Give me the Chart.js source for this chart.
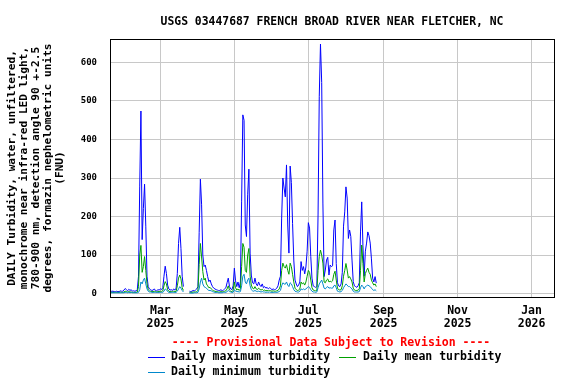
<!DOCTYPE html>
<html><head><meta charset="utf-8">
<script src="https://cdn.jsdelivr.net/npm/chart.js@4/dist/chart.umd.min.js"></script>
<style>html,body{margin:0;padding:0;background:#fff;}#wrap{width:576px;height:384px;position:relative;}</style>
</head><body><div id="wrap"><canvas id="c" width="576" height="384"></canvas></div>
<script>
const titleText = "USGS 03447687 FRENCH BROAD RIVER NEAR FLETCHER, NC";
const yAxisTitle = [
  "DAILY Turbidity, water, unfiltered,",
  "monochrome near infra-red LED light,",
  "780-900 nm, detection angle 90 +-2.5",
  "degrees, formazin nephelometric units",
  "(FNU)"
];
const provisionalText = "---- Provisional Data Subject to Revision ----";
const seriesNames = ["Daily maximum turbidity", "Daily mean turbidity", "Daily minimum turbidity"];
// day-of-year (2025-01-01 = 0) of the first daily value (2025-01-19)
const firstDay = 18;
const xRange = [17.5, 383.5];
const tickDays = [59, 120, 181, 243, 304, 365];
const tickLabels = [["Mar","2025"],["May","2025"],["Jul","2025"],["Sep","2025"],["Nov","2025"],["Jan","2026"]];
const yTicks = [0, 100, 200, 300, 400, 500, 600];
const yRange = [-9, 661];

const dailyMax = [
  5,6,6,5,5,6,5,5,7,6,
  6,9,13,10,7,11,8,10,6,7,
  6,7,10,45,279,474,140,221,284,175,
  45,18,12,10,8,9,12,8,7,10,
  9,12,10,15,45,71,52,22,12,9,
  10,8,12,9,14,52,130,172,117,45,
  18,null,null,null,null,6,5,6,8,7,
  9,12,18,158,297,232,100,70,74,60,
  44,31,35,25,18,14,12,10,9,8,
  8,10,7,9,12,15,28,40,18,12,
  10,20,66,33,18,30,15,30,238,464,
  450,178,148,258,323,105,48,28,25,40,
  25,20,30,22,18,25,15,18,14,16,
  12,15,13,10,12,10,11,14,20,35,
  45,196,300,274,251,334,178,105,331,288,
  182,87,35,25,18,22,30,83,60,70,
  51,69,110,184,170,96,40,20,18,16,
  18,204,511,648,548,235,44,61,87,94,
  48,74,70,72,165,191,78,28,20,18,
  25,55,175,212,277,248,143,165,148,87,
  31,20,18,16,20,28,160,238,125,45,
  110,131,160,150,131,90,40,30,44,27
];
const dailyMean = [
  3,3,3,3,3,3,3,3,4,3,
  3,4,6,5,4,5,4,4,3,3,
  3,3,4,18,100,125,55,70,96,60,
  25,10,7,6,5,5,6,5,4,5,
  5,6,5,7,20,31,25,10,6,5,
  5,5,6,5,6,20,40,48,38,15,
  8,null,null,null,null,3,3,3,4,4,
  4,5,8,75,130,95,57,35,40,25,
  20,15,16,12,9,7,6,5,5,4,
  4,5,4,5,6,7,12,20,9,6,
  5,8,30,15,9,12,8,12,70,130,
  120,60,55,100,117,45,22,14,12,18,
  12,10,14,11,9,11,8,9,7,8,
  7,8,7,6,7,6,6,7,8,12,
  20,60,79,70,66,75,60,50,79,70,
  50,30,14,10,8,9,12,30,25,28,
  22,30,45,60,55,35,15,9,8,7,
  8,60,96,113,100,79,30,28,35,38,
  30,32,30,33,50,58,35,14,10,9,
  10,20,45,60,78,61,40,44,38,30,
  14,9,8,8,9,12,60,126,78,30,
  52,60,66,55,50,35,28,22,25,18
];
const dailyMin = [
  2,2,2,2,2,2,2,2,2,2,
  2,2,3,3,2,3,2,3,2,2,
  2,2,2,3,10,30,25,35,40,25,
  12,6,4,4,3,3,3,3,3,3,
  3,3,3,3,6,12,10,5,3,3,
  3,3,3,3,3,6,12,18,14,8,
  4,null,null,null,null,1,1,1,1,2,
  2,2,3,12,30,40,25,18,16,14,
  10,8,8,7,5,4,3,3,3,2,
  2,2,2,3,3,3,5,8,5,4,
  3,3,10,6,5,5,4,5,20,45,
  50,30,25,35,40,20,10,7,6,8,
  6,5,6,5,4,5,4,4,3,4,
  3,4,3,3,3,3,3,3,4,5,
  8,20,28,25,24,30,22,18,28,25,
  18,10,6,5,4,4,6,12,10,12,
  10,12,15,18,16,10,6,4,4,3,
  4,15,25,30,35,25,14,12,16,18,
  14,15,14,14,20,22,15,6,5,4,
  5,8,15,20,25,22,18,18,15,12,
  6,4,4,4,4,5,15,22,18,12,
  18,20,22,20,18,14,10,8,10,7
];

const colors = ["#0000ff", "#00a000", "#0088cc"];
const FONT = "'DejaVu Sans Mono', 'Liberation Mono', monospace";

function toPoints(arr) { return arr.map((v, i) => ({x: firstDay + i, y: v})); }

const frame = {
  id: 'frame',
  afterDatasetsDraw(chart) {
    const {ctx, chartArea: a} = chart;
    ctx.save();
    ctx.strokeStyle = '#000';
    ctx.lineWidth = 1;
    ctx.strokeRect(a.left + 0.5, a.top + 0.5, a.right - a.left, a.bottom - a.top);
    ctx.restore();
  },
  afterDraw(chart) {
    const {ctx, chartArea: a} = chart;
    ctx.save();
    ctx.textBaseline = 'middle';
    ctx.font = "bold 11.4px " + FONT;
    ctx.fillStyle = '#000';
    ctx.textAlign = 'center';
    ctx.fillText(titleText, (a.left + a.right) / 2, 22);
    ctx.font = "bold 11.5px " + FONT;
    ctx.fillStyle = '#ff0000';
    ctx.fillText(provisionalText, 331, 343);
    const items = [
      {sx: 148, tx: 171, y: 357},
      {sx: 339, tx: 363, y: 357},
      {sx: 148, tx: 171, y: 372.5}
    ];
    ctx.textAlign = 'left';
    items.forEach((it, i) => {
      ctx.strokeStyle = colors[i];
      ctx.lineWidth = 1;
      ctx.beginPath();
      ctx.moveTo(it.sx, Math.floor(it.y) + 0.5);
      ctx.lineTo(it.sx + 17, Math.floor(it.y) + 0.5);
      ctx.stroke();
      ctx.fillStyle = '#000';
      ctx.fillText(seriesNames[i], it.tx, it.y);
    });
    ctx.restore();
  }
};

new Chart(document.getElementById('c'), {
  type: 'line',
  data: {
    datasets: [
      {label: seriesNames[0], data: toPoints(dailyMax), borderColor: colors[0], order: 3},
      {label: seriesNames[1], data: toPoints(dailyMean), borderColor: colors[1], order: 2},
      {label: seriesNames[2], data: toPoints(dailyMin), borderColor: colors[2], order: 1}
    ]
  },
  options: {
    responsive: false,
    animation: false,
    devicePixelRatio: 1,
    spanGaps: false,
    elements: {
      line: {borderWidth: 1, tension: 0, fill: false},
      point: {radius: 0, hoverRadius: 0}
    },
    layout: {padding: {left: 0, right: 22, top: 39, bottom: 0}},
    plugins: {legend: {display: false}, title: {display: false}, tooltip: {enabled: false}},
    scales: {
      x: {
        type: 'linear',
        min: xRange[0], max: xRange[1],
        afterBuildTicks(scale) { scale.ticks = tickDays.map(v => ({value: v})); },
        afterFit(scale) { scale.height = 87; },
        grid: {color: '#c8c8c8', lineWidth: 1, drawTicks: false},
        border: {display: false},
        ticks: {
          autoSkip: false, maxRotation: 0, minRotation: 0, padding: 7.5,
          color: '#000',
          font: {family: FONT, size: 11.5, weight: 'bold', lineHeight: '13px'},
          callback: (v, i) => tickLabels[i]
        }
      },
      y: {
        type: 'linear',
        min: yRange[0], max: yRange[1],
        afterBuildTicks(scale) { scale.ticks = yTicks.map(v => ({value: v})); },
        afterFit(scale) { scale.width = 110; },
        grid: {color: '#c8c8c8', lineWidth: 1, drawTicks: false},
        border: {display: false},
        ticks: {
          padding: 13, color: '#000',
          font: {family: FONT, size: 9, weight: 'bold'},
          callback: v => String(v)
        },
        title: {
          display: true,
          text: yAxisTitle,
          color: '#000',
          padding: {top: 6, bottom: 0},
          font: {family: FONT, size: 11.2, weight: 'bold', lineHeight: '12px'}
        }
      }
    }
  },
  plugins: [frame]
});
</script>
</body></html>
